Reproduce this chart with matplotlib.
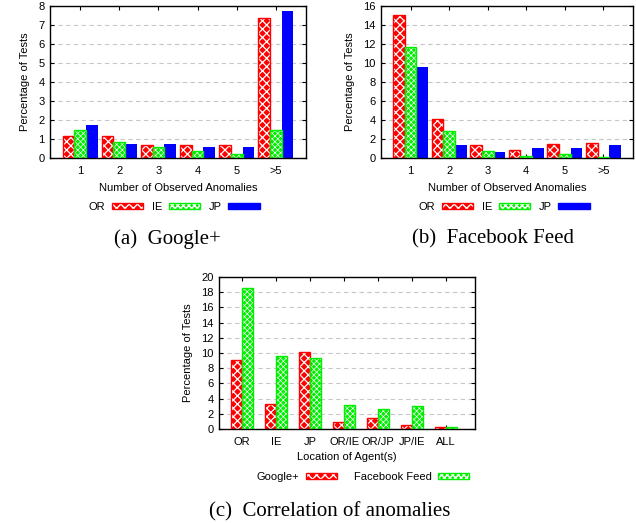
import numpy as np
import matplotlib
matplotlib.use('Agg')
import matplotlib.pyplot as plt
from matplotlib.patches import Patch
from matplotlib.legend_handler import HandlerTuple

plt.rcParams['font.family'] = ['Liberation Sans', 'DejaVu Sans']

# (a) Google+ / (b) Facebook Feed: anomalies observed per test
anomaly_labels = ['1', '2', '3', '4', '5', '>5']
gplus_or = [1.15, 1.15, 0.68, 0.68, 0.68, 7.35]
gplus_ie = [1.45, 0.85, 0.58, 0.38, 0.2, 1.45]
gplus_jp = [1.72, 0.75, 0.75, 0.57, 0.57, 7.75]

fb_or = [15.1, 4.1, 1.35, 0.85, 1.45, 1.55]
fb_ie = [11.7, 2.8, 0.75, 0.2, 0.4, 0.1]
fb_jp = [9.6, 1.4, 0.65, 1.05, 1.05, 1.4]

# (c) correlation of anomalies by agent location
location_labels = ['OR', 'IE', 'JP', 'OR/IE', 'OR/JP', 'JP/IE', 'ALL']
corr_gplus = [9.1, 3.3, 10.1, 0.9, 1.45, 0.5, 0.2]
corr_fb = [18.5, 9.6, 9.4, 3.1, 2.65, 3.05, 0.3]

W, H = 636, 523
RED = '#ff0000'
GREEN = '#00ee00'
BLUE = '#0000ff'
# hatch pattern, hatch line width per colour
HATCH = {RED: ('xxxx', 0.9), GREEN: ('xxxxxx', 0.5)}


def px_axes(fig, left, top, right, bottom):
    return fig.add_axes([left / W, 1 - bottom / H, (right - left) / W, (bottom - top) / H])


def hatched_bar(ax, x, h, w, color):
    hatch, hlw = HATCH[color]
    with plt.rc_context({'hatch.linewidth': hlw}):
        ax.bar(x, h, w, color=color, edgecolor='white', hatch=hatch, linewidth=0, zorder=2)
    ax.bar(x, h, w, fill=False, edgecolor=color, linewidth=1.0, zorder=3)


def style_axes(ax, ymax, ystep, labels, xlim):
    ax.set_ylim(0, ymax)
    ax.set_yticks(np.arange(0, ymax + 0.01, ystep))
    ax.set_xticks(np.arange(1, len(labels) + 1))
    ax.set_xticklabels(labels)
    ax.set_xlim(*xlim)
    ax.yaxis.grid(True, linestyle=(0, (4, 3)), color='#c8c8c8', linewidth=0.8, zorder=0)
    ax.set_axisbelow(True)
    ax.tick_params(direction='in', length=3, width=0.8, top=True, right=True,
                   labelsize=8, pad=4, colors='black')
    ax.tick_params(axis='x', pad=6)
    for s in ax.spines.values():
        s.set_linewidth(1.0)
    ax.set_ylabel('Percentage of Tests', fontsize=8, labelpad=6)


def legend_handle(color):
    if color not in HATCH:
        return Patch(facecolor=color, edgecolor=color)
    hatch, hlw = HATCH[color]
    with plt.rc_context({'hatch.linewidth': hlw}):
        p = Patch(facecolor=color, edgecolor='white', hatch=hatch, linewidth=0)
    return (p, Patch(fill=False, edgecolor=color, linewidth=1.0))


fig = plt.figure(figsize=(W / 100, H / 100), dpi=100)

panels = [
    (px_axes(fig, 50, 6, 306, 158), gplus_or, gplus_ie, gplus_jp, 8, 1, 174, 167, '(a)  Google+'),
    (px_axes(fig, 381, 6, 633, 158), fb_or, fb_ie, fb_jp, 16, 2, 504, 493, '(b)  Facebook Feed'),
]
bw = 0.3
for ax, s_or, s_ie, s_jp, ymax, ystep, lx, cx, caption in panels:
    x = np.arange(1, len(anomaly_labels) + 1)
    hatched_bar(ax, x - bw, s_or, bw, RED)
    hatched_bar(ax, x, s_ie, bw, GREEN)
    ax.bar(x + bw, s_jp, bw, color=BLUE, edgecolor=BLUE, linewidth=0, zorder=2)
    style_axes(ax, ymax, ystep, anomaly_labels, (0.23, 6.77))
    ax.set_xlabel('Number of Observed Anomalies', fontsize=8, labelpad=5)
    handles = [legend_handle(RED), legend_handle(GREEN), legend_handle(BLUE)]
    fig.legend(handles, ['OR', 'IE', 'JP'], handler_map={tuple: HandlerTuple(ndivide=1)},
               loc='center', bbox_to_anchor=(lx / W, 1 - 207 / H), ncol=3, frameon=False,
               markerfirst=False, fontsize=8, handlelength=2.8, handleheight=0.55,
               handletextpad=0.6, columnspacing=0.8)
    fig.text(cx / W, 1 - 239 / H, caption, family=['Liberation Serif', 'DejaVu Serif'],
             fontsize=15, ha='center', va='center')

# (c)
ax = px_axes(fig, 219, 277, 475, 429)
x = np.arange(1, len(location_labels) + 1)
bw = 0.33
hatched_bar(ax, x - bw / 2, corr_gplus, bw, RED)
hatched_bar(ax, x + bw / 2, corr_fb, bw, GREEN)
style_axes(ax, 20, 2, location_labels, (0.32, 7.85))
ax.set_xlabel('Location of Agent(s)', fontsize=8, labelpad=3)
handles = [legend_handle(RED), legend_handle(GREEN)]
fig.legend(handles, ['Google+', 'Facebook Feed'], handler_map={tuple: HandlerTuple(ndivide=1)},
           loc='center', bbox_to_anchor=(363 / W, 1 - 477 / H), ncol=2, frameon=False,
           markerfirst=False, fontsize=8, handlelength=2.8, handleheight=0.55,
           handletextpad=0.6, columnspacing=1.5)
fig.text(330 / W, 1 - 512 / H, '(c)  Correlation of anomalies', family=['Liberation Serif', 'DejaVu Serif'],
         fontsize=15, ha='center', va='center')

fig.savefig('out.png', dpi=100)
